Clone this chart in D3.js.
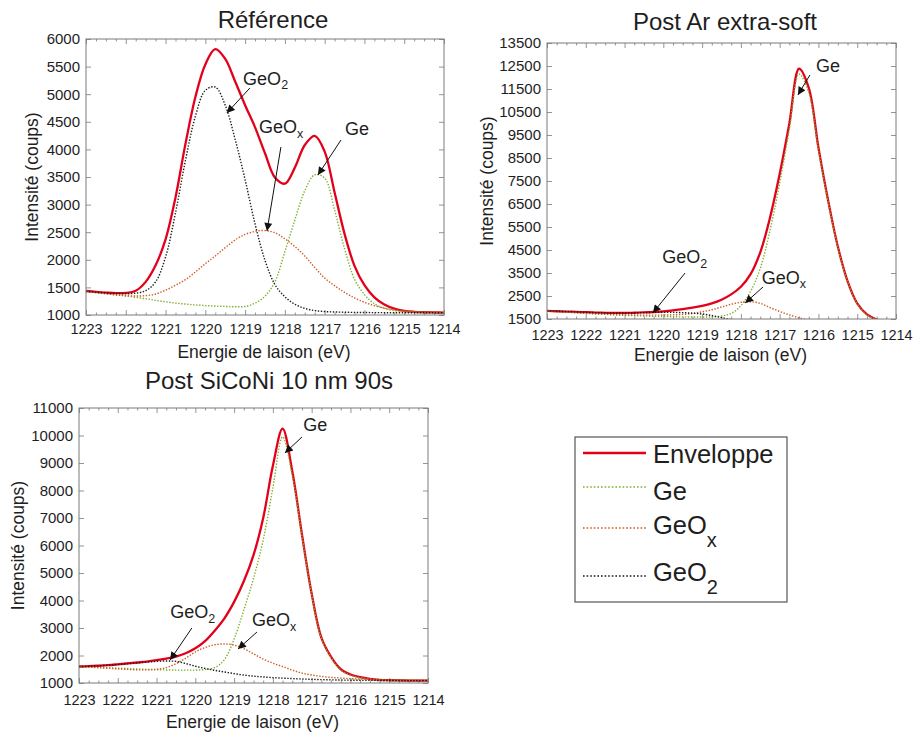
<!DOCTYPE html>
<html><head><meta charset="utf-8">
<script src="https://cdn.jsdelivr.net/npm/d3@7"></script>
<style>
body{margin:0;background:#fff}
svg{display:block}
text{font-family:"Liberation Sans",Arial,Helvetica,sans-serif;fill:#1e1e1e}
</style>
</head><body><svg id="c" width="914" height="736"></svg>
<script>
// ---------------- DATA ----------------
const energy = [1223,1222.75,1222.5,1222.25,1222,1221.75,1221.5,1221.25,1221,1220.75,1220.5,1220.25,1220,1219.75,1219.5,1219.25,1219,1218.75,1218.5,1218.25,1218,1217.75,1217.5,1217.25,1217,1216.75,1216.5,1216.25,1216,1215.75,1215.5,1215.25,1215,1214.75,1214.5,1214.25,1214];

// Référence
const envRef  = [1435,1418,1405,1396,1400,1440,1600,1900,2370,3130,4100,4950,5540,5815,5640,5230,4800,4400,3930,3490,3380,3670,4080,4245,3960,3220,2470,1890,1540,1320,1190,1115,1075,1058,1050,1046,1044];
const geRef   = [1430,1405,1385,1365,1345,1320,1295,1265,1240,1215,1198,1182,1170,1162,1155,1150,1155,1215,1340,1600,2150,2720,3250,3540,3480,2900,2200,1650,1370,1205,1120,1080,1060,1050,1046,1044,1042];
const geoxRef = [1430,1405,1385,1365,1350,1345,1350,1380,1450,1540,1640,1780,1930,2070,2220,2360,2460,2515,2530,2490,2380,2240,2070,1860,1670,1530,1410,1310,1230,1170,1125,1095,1075,1062,1055,1050,1048];
const geo2Ref = [1430,1415,1400,1390,1385,1395,1440,1600,2050,2850,3800,4600,5070,5130,4800,4180,3450,2650,1990,1550,1330,1195,1120,1080,1062,1055,1050,1047,1045,1043,1042,1041,1040,1040,1040,1040,1040];

// Post Ar extra-soft
const envAr  = [1850,1838,1825,1810,1795,1780,1770,1765,1765,1772,1785,1805,1835,1875,1925,1990,2070,2180,2340,2570,2900,3450,4400,5900,7800,10000,12380,11550,8950,6650,4650,3150,2180,1700,1480,1370,1320];
const geAr   = [1840,1820,1795,1770,1745,1720,1700,1680,1660,1645,1630,1615,1605,1598,1592,1588,1585,1590,1630,1740,2080,2700,3700,5350,7400,9750,12150,11350,8850,6600,4620,3120,2160,1680,1460,1355,1305];
const geoxAr = [1845,1825,1805,1780,1755,1730,1710,1690,1680,1672,1670,1670,1672,1680,1700,1740,1810,1900,2020,2140,2225,2250,2180,2000,1830,1680,1550,1460,1400,1370,1350,1340,1335,1332,1330,1330,1330];
const geo2Ar = [1850,1838,1822,1808,1793,1778,1768,1762,1762,1770,1780,1790,1795,1790,1775,1755,1720,1650,1560,1480,1440,1420,1405,1395,1385,1375,1365,1355,1345,1340,1335,1332,1330,1330,1330,1330,1330];

// Post SiCoNi 10 nm 90s
const envSi  = [1600,1610,1628,1650,1680,1712,1745,1780,1830,1890,1960,2080,2260,2520,2900,3350,3950,4700,5650,7000,8900,10250,8700,6400,4250,2650,1950,1500,1310,1210,1150,1115,1100,1093,1090,1090,1090];
const geSi   = [1595,1585,1570,1555,1540,1525,1510,1495,1485,1475,1470,1468,1470,1490,1560,1850,2600,3650,4800,6200,8100,9950,8550,6350,4230,2620,1920,1470,1285,1190,1140,1110,1095,1090,1088,1087,1087];
const geoxSi = [1590,1575,1555,1535,1515,1495,1480,1480,1500,1560,1700,1900,2130,2290,2390,2420,2380,2250,2060,1870,1720,1600,1470,1360,1290,1240,1205,1180,1160,1145,1130,1120,1112,1105,1100,1098,1095];
const geo2Si = [1598,1608,1625,1645,1672,1700,1730,1760,1785,1800,1785,1710,1610,1530,1460,1400,1340,1290,1250,1220,1195,1178,1160,1145,1133,1123,1115,1108,1102,1098,1095,1093,1092,1091,1090,1090,1090];

// Tick labels
const xTickValues = [1223,1222,1221,1220,1219,1218,1217,1216,1215,1214];
const yTicksRef = [1000,1500,2000,2500,3000,3500,4000,4500,5000,5500,6000];
const yTicksAr  = [1500,2500,3500,4500,5500,6500,7500,8500,9500,10500,11500,12500,13500];
const yTicksSi  = [1000,2000,3000,4000,5000,6000,7000,8000,9000,10000,11000];

const titles = ["Référence","Post Ar extra-soft","Post SiCoNi 10 nm 90s"];
const xTitle = "Energie de laison (eV)";
const yTitle = "Intensité (coups)";
const legendNames = [["Enveloppe",""],["Ge",""],["GeO","x"],["GeO","2"]];

// annotations (data coordinates): label, subscript, text pos, arrow start, arrow tip
const annRef = [
  {t:"GeO",s:"2",tx:1219.05,ty:5290,x1:1218.88,y1:5112,x2:1219.46,y2:4659},
  {t:"GeO",s:"x",tx:1218.65,ty:4406,x1:1218.10,y1:4043,x2:1218.45,y2:2522},
  {t:"Ge",s:"",tx:1216.49,ty:4370,x1:1216.59,y1:4170,x2:1217.17,y2:3536}
];
const annAr = [
  {t:"Ge",s:"",tx:1216.06,ty:12543,x1:1216.22,y1:12109,x2:1216.53,y2:11239},
  {t:"GeO",s:"2",tx:1220.03,ty:4196,x1:1219.44,y1:3500,x2:1220.27,y2:1761},
  {t:"GeO",s:"x",tx:1217.46,ty:3326,x1:1217.43,y1:2891,x2:1217.89,y2:2196}
];
const annSi = [
  {t:"Ge",s:"",tx:1217.22,ty:10382,x1:1217.25,y1:9945,x2:1217.69,y2:9364},
  {t:"GeO",s:"2",tx:1220.65,ty:3582,x1:1220.09,y1:3000,x2:1220.65,y2:1836},
  {t:"GeO",s:"x",tx:1218.54,ty:3291,x1:1218.41,y1:2855,x2:1218.90,y2:2236}
];

// ---------------- STYLE / LAYOUT ----------------
const colors = {env:"#e3001b", ge:"#7fae2e", geox:"#d0591f", geo2:"#1a1a1a"};
const frameColor = "#7a7a7a";

const panels = [
  {title:titles[0], env:envRef, ge:geRef, geox:geoxRef, geo2:geo2Ref, yTicks:yTicksRef, yDom:[1000,6000],
   l:86, r:444, t:39, b:315, xPad:8.5, tX:273, tY:19, xtY:352, ytX:32, ann:annRef},
  {title:titles[1], env:envAr, ge:geAr, geox:geoxAr, geo2:geo2Ar, yTicks:yTicksAr, yDom:[1500,13500],
   l:547, r:896, t:43, b:319, xPad:10.8, tX:725, tY:21, xtY:355, ytX:487, ann:annAr},
  {title:titles[2], env:envSi, ge:geSi, geox:geoxSi, geo2:geo2Si, yTicks:yTicksSi, yDom:[1000,11000],
   l:79, r:428, t:408, b:683, xPad:11.8, tX:269, tY:380, xtY:722, ytX:18, ann:annSi}
];

const svg = d3.select("#c");
const defs = svg.append("defs");
defs.append("marker").attr("id","ah").attr("viewBox","0 0 10 10").attr("refX",10).attr("refY",5)
  .attr("markerWidth",10).attr("markerHeight",8).attr("markerUnits","userSpaceOnUse").attr("orient","auto")
  .append("path").attr("d","M0,0 L10,5 L0,10 z").attr("fill","#111");

panels.forEach((p,i)=>{
  const x = d3.scaleLinear().domain([1223,1214]).range([p.l,p.r]);
  const y = d3.scaleLinear().domain(p.yDom).range([p.b,p.t]);
  const g = svg.append("g");

  defs.append("clipPath").attr("id","clip"+i).append("rect")
    .attr("x",p.l).attr("y",p.t).attr("width",p.r-p.l).attr("height",p.b-p.t);

  const minor = d3.range(1214,1223.001,0.25).filter(v=>Math.abs(v-Math.round(v))>1e-6);
  const gxb = g.append("g").attr("transform",`translate(0,${p.b})`)
    .call(d3.axisBottom(x).tickValues(xTickValues).tickFormat(d3.format("d")).tickSizeInner(-5).tickSizeOuter(0).tickPadding(p.xPad));
  gxb.selectAll("text").attr("font-size","14.5px").style("fill","#1e1e1e");
  g.append("g").attr("transform",`translate(0,${p.b})`).call(d3.axisBottom(x).tickValues(minor).tickFormat("").tickSizeInner(-2.5).tickSizeOuter(0));
  g.append("g").attr("transform",`translate(0,${p.t})`).call(d3.axisTop(x).tickValues(xTickValues).tickFormat("").tickSizeInner(-5).tickSizeOuter(0));
  g.append("g").attr("transform",`translate(0,${p.t})`).call(d3.axisTop(x).tickValues(minor).tickFormat("").tickSizeInner(-2.5).tickSizeOuter(0));
  const gyl = g.append("g").attr("transform",`translate(${p.l},0)`)
    .call(d3.axisLeft(y).tickValues(p.yTicks).tickFormat(d3.format("d")).tickSizeInner(-5).tickSizeOuter(0).tickPadding(6));
  gyl.selectAll("text").attr("font-size","15px").style("fill","#1e1e1e");
  g.append("g").attr("transform",`translate(${p.r},0)`).call(d3.axisRight(y).tickValues(p.yTicks).tickFormat("").tickSizeInner(-5).tickSizeOuter(0));
  g.selectAll(".domain").remove();
  g.selectAll(".tick line").attr("stroke",frameColor).attr("stroke-width",0.8);

  const line = d3.line().x((d,k)=>x(energy[k])).y(d=>y(d)).curve(d3.curveCatmullRom.alpha(0.5));
  const cg = g.append("g").attr("clip-path",`url(#clip${i})`);
  cg.append("path").attr("d",line(p.env)).attr("fill","none").attr("stroke",colors.env).attr("stroke-width",2.3);
  [["ge",colors.ge],["geox",colors.geox],["geo2",colors.geo2]].forEach(([k,c])=>{
    cg.append("path").attr("d",line(p[k])).attr("fill","none").attr("stroke",c)
      .attr("stroke-width",1.4).attr("stroke-dasharray","1.4,1.6");
  });

  g.append("rect").attr("x",p.l).attr("y",p.t).attr("width",p.r-p.l).attr("height",p.b-p.t)
    .attr("fill","none").attr("stroke",frameColor).attr("stroke-width",1);

  p.ann.forEach(a=>{
    g.append("line").attr("x1",x(a.x1)).attr("y1",y(a.y1)).attr("x2",x(a.x2)).attr("y2",y(a.y2))
      .attr("stroke","#111").attr("stroke-width",1).attr("marker-end","url(#ah)");
    const t = g.append("text").attr("x",x(a.tx)).attr("y",y(a.ty)+6.5).attr("font-size","18px").text(a.t);
    if(a.s) t.append("tspan").attr("dy",4.5).attr("font-size","12.5px").text(a.s);
  });

  g.append("text").attr("x",p.tX).attr("y",p.tY+8.5).attr("text-anchor","middle").attr("font-size","24px").text(p.title);
  g.append("text").attr("x",(p.l+p.r)/2 - 1).attr("y",p.xtY+6).attr("text-anchor","middle").attr("font-size","17.5px").text(xTitle);
  g.append("text").attr("transform",`translate(${p.ytX+6},${(p.t+p.b)/2}) rotate(-90)`).attr("text-anchor","middle").attr("font-size","17.5px").text(yTitle);
});

// ---------------- LEGEND ----------------
const lg = svg.append("g");
lg.append("rect").attr("x",575).attr("y",437).attr("width",212).attr("height",165)
  .attr("fill","#fff").attr("stroke","#555").attr("stroke-width",1.2);
const legRows = [
  {lineY:453, textY:454, color:colors.env, solid:true},
  {lineY:487, textY:491, color:colors.ge},
  {lineY:528, textY:525, color:colors.geox},
  {lineY:576, textY:572, color:colors.geo2}
];
legRows.forEach((r,k)=>{
  const ln = lg.append("line").attr("x1",583).attr("x2",646).attr("y1",r.lineY).attr("y2",r.lineY).attr("stroke",r.color);
  if(r.solid) ln.attr("stroke-width",2.6); else ln.attr("stroke-width",1.6).attr("stroke-dasharray","1.6,2");
  const t = lg.append("text").attr("x",653).attr("y",r.textY+9).attr("font-size","25.5px").text(legendNames[k][0]);
  if(legendNames[k][1]) t.append("tspan").attr("dy",13).attr("font-size","20px").text(legendNames[k][1]);
});
</script>
</body></html>
